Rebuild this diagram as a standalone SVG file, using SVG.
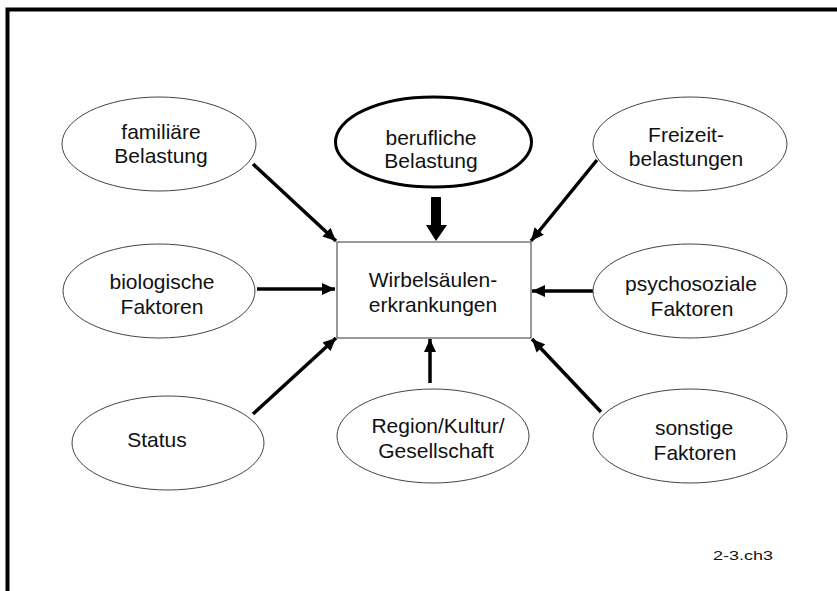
<svg xmlns="http://www.w3.org/2000/svg" width="837" height="591" viewBox="0 0 837 591">
<style>
.n{fill:#fff;stroke:#444;stroke-width:1}
.b{fill:#fff;stroke:#000;stroke-width:3}
.r{fill:#fff;stroke:#555;stroke-width:1.2}
.t{font-family:"Liberation Sans",Arial,sans-serif;font-size:21px;fill:#111;text-anchor:middle}
.c{stroke:#000;stroke-width:3.5;fill:none;marker-end:url(#ah)}
</style>
<defs>
<marker id="ah" markerUnits="userSpaceOnUse" markerWidth="14" markerHeight="12" refX="13" refY="6" orient="auto">
<path d="M0,0 L13,6 L0,12 z" fill="#000"/>
</marker>
</defs>
<rect width="837" height="591" fill="#fff"/>
<path d="M7.5,591 V9.5 H837" fill="none" stroke="#000" stroke-width="4"/>
<g id="connectors">
<line class="c" x1="253" y1="164" x2="336" y2="241"/>
<line class="c" x1="597" y1="160" x2="531" y2="241"/>
<line class="c" x1="257" y1="289" x2="335" y2="289"/>
<line class="c" x1="593" y1="291" x2="532" y2="291"/>
<line class="c" x1="253" y1="414" x2="336" y2="338"/>
<line class="c" x1="430" y1="383" x2="430" y2="339"/>
<line class="c" x1="601" y1="412" x2="532" y2="339"/>
<polygon points="431,197 441,197 441,225 447,225 436,241 426,225 431,225" fill="#000"/>
</g>
<g id="center">
<rect class="r" x="337" y="242" width="194" height="96"/>
<text class="t" x="433" y="287">Wirbelsäulen-</text>
<text class="t" x="433" y="312">erkrankungen</text>
</g>
<g id="familiaere">
<ellipse class="n" cx="159" cy="144" rx="97" ry="47"/>
<text class="t" x="161" y="139">familiäre</text>
<text class="t" x="161" y="163">Belastung</text>
</g>
<g id="berufliche">
<ellipse class="b" cx="433.5" cy="142" rx="98" ry="45"/>
<text class="t" x="431" y="145">berufliche</text>
<text class="t" x="431" y="168">Belastung</text>
</g>
<g id="freizeit">
<ellipse class="n" cx="690" cy="144" rx="97" ry="47"/>
<text class="t" x="686" y="142">Freizeit-</text>
<text class="t" x="686" y="166">belastungen</text>
</g>
<g id="biologische">
<ellipse class="n" cx="159" cy="291" rx="96" ry="47"/>
<text class="t" x="162" y="289">biologische</text>
<text class="t" x="162" y="314">Faktoren</text>
</g>
<g id="psychosoziale">
<ellipse class="n" cx="690" cy="291" rx="97" ry="47"/>
<text class="t" x="691" y="291">psychosoziale</text>
<text class="t" x="692" y="316">Faktoren</text>
</g>
<g id="status">
<ellipse class="n" cx="168" cy="443" rx="96" ry="47"/>
<text class="t" x="157" y="447">Status</text>
</g>
<g id="region">
<ellipse class="n" cx="433" cy="436" rx="96" ry="47"/>
<text class="t" x="438" y="433">Region/Kultur/</text>
<text class="t" x="436" y="458">Gesellschaft</text>
</g>
<g id="sonstige">
<ellipse class="n" cx="690" cy="436" rx="97" ry="47"/>
<text class="t" x="694" y="435">sonstige</text>
<text class="t" x="695" y="460">Faktoren</text>
</g>
<text x="713" y="560" font-family="'Liberation Sans',Arial,sans-serif" font-size="12" fill="#111" textLength="60" lengthAdjust="spacingAndGlyphs">2-3.ch3</text>
</svg>
